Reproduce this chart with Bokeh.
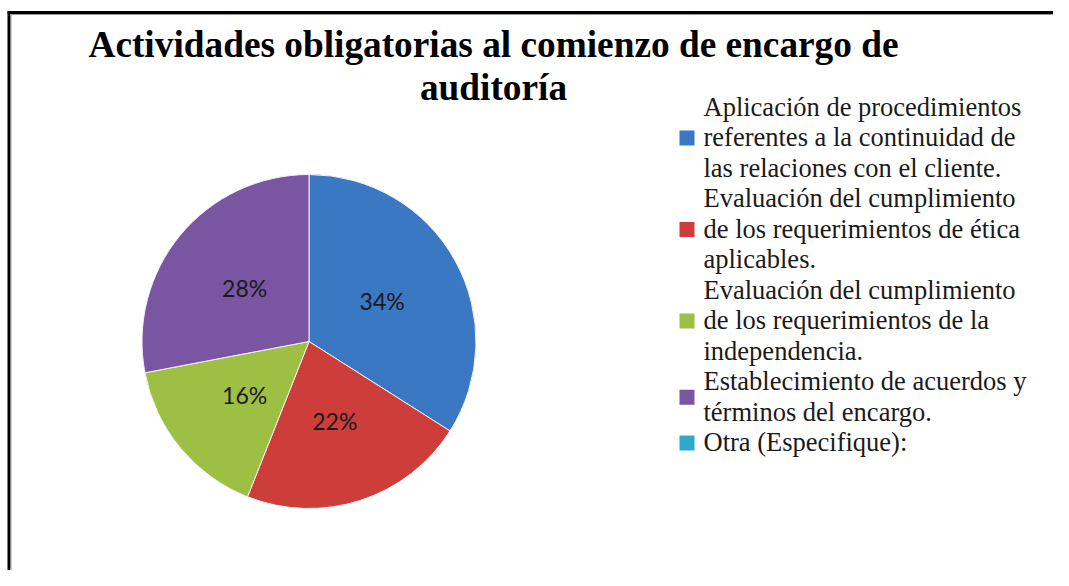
import math
from bokeh.plotting import figure
from bokeh.models import Range1d, ColumnDataSource
from bokeh.core.properties import value
from bokeh.embed import file_html
from bokeh.resources import INLINE

# ---------------- data ----------------
title_lines = ["Actividades obligatorias al comienzo de encargo de", "auditoría"]
categories = [
    "Aplicación de procedimientos\nreferentes a la continuidad de\nlas relaciones con el cliente.",
    "Evaluación del cumplimiento\nde los requerimientos de ética\naplicables.",
    "Evaluación del cumplimiento\nde los requerimientos de la\nindependencia.",
    "Establecimiento de acuerdos y\ntérminos del encargo.",
    "Otra (Especifique):",
]
percentages = [34, 22, 16, 28, 0]
colors = ["#3B78C4", "#CD3D3A", "#9DBF43", "#7A55A1", "#2FA8CA"]

# ---------------- layout ----------------
W, H = 1053, 570
def X(xs):
    return xs
def Y(ys):
    return H - ys

p = figure(width=W, height=H, x_range=Range1d(0, W), y_range=Range1d(0, H),
           output_backend="svg", toolbar_location=None, min_border=0)
p.axis.visible = False
p.grid.visible = False
p.outline_line_color = None
p.background_fill_color = "white"
p.border_fill_color = "white"

# frame lines (left and top)
p.line(x=[X(8.5), X(8.5)], y=[Y(11), Y(600)], line_color="black", line_width=3)
p.line(x=[X(10.5), X(10.5)], y=[Y(13), Y(600)], line_color="#9a9a9a", line_width=1)
p.line(x=[X(7), X(1075)], y=[Y(12), Y(12)], line_color="black", line_width=3)
p.line(x=[X(10), X(1075)], y=[Y(14), Y(14)], line_color="#9a9a9a", line_width=1)

# title
p.text(x=[X(493), X(493)], y=[Y(44), Y(87)], text=title_lines,
       text_font=value("Liberation Serif"), text_font_style="bold",
       text_font_size="37.3px", text_align="center", text_baseline="alphabetic",
       text_color="black")

# pie
cx, cy, r = X(308.5), Y(341), 167
total = sum(percentages)
starts, ends, wcol, lx, ly, labels = [], [], [], [], [], []
cum = 0
for v, c in zip(percentages, colors):
    a0 = math.pi / 2 - 2 * math.pi * cum / total
    cum += v
    a1 = math.pi / 2 - 2 * math.pi * cum / total
    if v <= 0:
        continue
    starts.append(a0)
    ends.append(a1)
    wcol.append(c)
    mid = (a0 + a1) / 2
    lx.append(cx + 0.5 * r * math.cos(mid))
    ly.append(cy + 0.5 * r * math.sin(mid))
    labels.append(f"{v}%")

src = ColumnDataSource(dict(start=starts, end=ends, color=wcol))
p.wedge(x=cx, y=cy, radius=r, start_angle="start", end_angle="end",
        direction="clock", fill_color="color", line_color="#f2f2f2",
        line_width=1, source=src)

p.text(x=lx, y=ly, text=labels, text_font=value("Lato"), text_font_size="23px",
       text_align="center", text_baseline="middle", text_color="#1a1a1a")

# legend (drawn manually to match wrapped layout)
line_h = 30.5
first_line = 107
tx, ty, tt = [], [], []
mx, my = [], []
row = 0
for cat in categories:
    lines = cat.split("\n")
    ys = [first_line + (row + i) * line_h for i in range(len(lines))]
    for i, ln in enumerate(lines):
        tx.append(X(703))
        ty.append(Y(ys[i] - 1))
        tt.append(ln)
    mx.append(X(686.5))
    my.append(Y((ys[0] + ys[-1]) / 2))
    row += len(lines)

p.rect(x=mx, y=my, width=15, height=15, fill_color=colors, line_color=None)
p.text(x=tx, y=ty, text=tt, text_font=value("Liberation Serif"),
       text_font_size="26.5px", text_align="left", text_baseline="middle",
       text_color="#1a1a1a")

open("out.html", "w").write(file_html(p, INLINE))
